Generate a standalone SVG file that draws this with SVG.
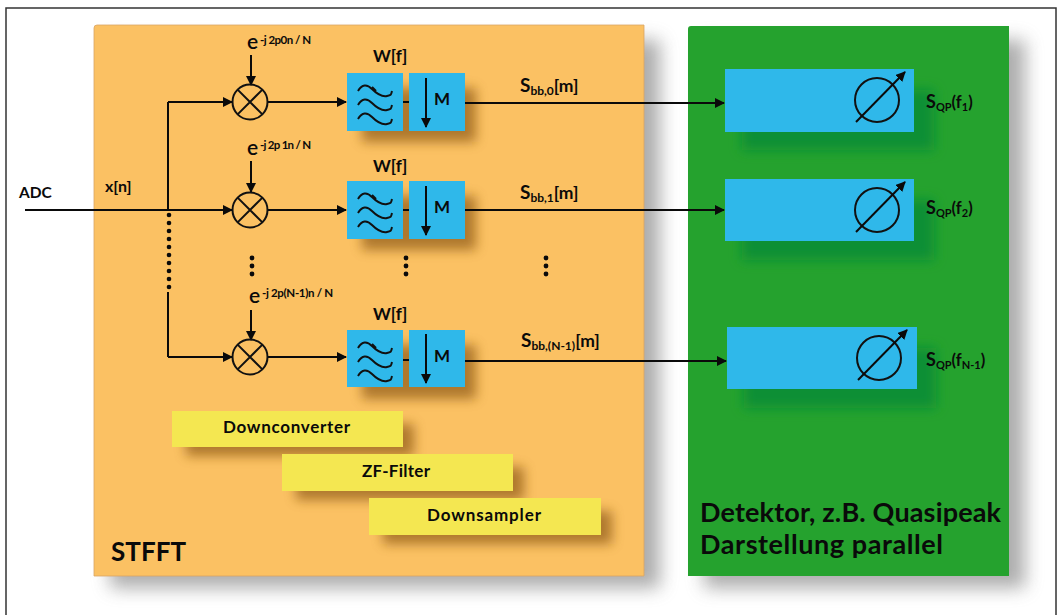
<svg xmlns="http://www.w3.org/2000/svg" width="1062" height="615" viewBox="0 0 1062 615">
<style>
text{font-family:"Lato","Open Sans","Liberation Sans",sans-serif;font-weight:700;fill:#0a0a0a}
.w{stroke:#111;stroke-width:2;fill:none}
.c{stroke:#0a0a0a;stroke-width:2;fill:none}
.a{stroke:#0a0a0a;stroke-width:2;fill:none;marker-end:url(#ah)}
.dot{fill:#0a0a0a}
.blue{fill:#2fb8ea}
.yel{fill:#f4e751}
.m{font-size:17px}
.sup{font-size:11.500px}
.e{font-size:21px;font-weight:600}
.s{font-size:17.500px}
</style>
<defs>
<marker id="ah" viewBox="0 0 10 10" refX="9" refY="5" markerWidth="5" markerHeight="5" orient="auto"><path d="M0 0L10 5L0 10Z" fill="#0a0a0a"/></marker>
<filter id="sh" x="-20%" y="-20%" width="150%" height="150%"><feGaussianBlur stdDeviation="9"/></filter>
<filter id="sh2" x="-40%" y="-40%" width="200%" height="200%"><feGaussianBlur stdDeviation="6"/></filter>
<g id="wave"><path class="w" d="M358 91c4-7 9-7 14-2s10 8 15 7 4-2 5-5"/><path class="w" d="M358 105c4-7 9-7 14-2s10 8 15 7 4-2 5-5"/><path class="w" d="M358 119c4-7 9-7 14-2s10 8 15 7 4-2 5-5"/><path class="w" stroke-width="1.500" d="M372 87l4 4"/></g>
<g id="mix"><circle class="w" cx="250" cy="102" r="17.500"/><path class="w" d="M237.600 89.600L262.400 114.400M262.400 89.600L237.600 114.400"/></g>
<g id="gauge"><circle class="w" cx="877" cy="100" r="22"/><path class="a" d="M856 122L905 72"/></g>
<g id="vd"><circle class="dot" cx="0" cy="0" r="2.400"/><circle class="dot" cx="0" cy="8" r="2.400"/><circle class="dot" cx="0" cy="16" r="2.400"/></g>
</defs>
<rect x="6" y="8" width="1050" height="620" fill="#fff" stroke="#333" stroke-width="1.500"/>
<g id="stfft">
<rect x="110" y="40" width="550" height="548" fill="#777" opacity=".6" filter="url(#sh)"/>
<path d="M94 28a3 3 0 0 1 3-3H644V576H94Z" fill="#fbc163" stroke="#d9a464" stroke-width=".8"/>
<text x="111" y="561" font-size="26" textLength="75">STFFT</text>
</g>
<g id="detector-panel">
<rect x="704" y="40" width="321" height="548" fill="#777" opacity=".6" filter="url(#sh)"/>
<path d="M688 29a3 3 0 0 1 3-3H1009V576H688Z" fill="#25a22e"/>
<text x="700" y="522" font-size="27" textLength="301">Detektor, z.B. Quasipeak</text>
<text x="700" y="554" font-size="27" textLength="243">Darstellung parallel</text>
</g>
<g id="shadows">
<g fill="#8f5a18" opacity=".7" filter="url(#sh2)">
<rect x="362" y="88" width="114" height="54"/><rect x="362" y="196" width="114" height="54"/><rect x="362" y="345" width="114" height="54"/>
<rect x="186" y="424" width="228" height="32"/><rect x="296" y="467" width="228" height="33"/><rect x="383" y="511" width="229" height="33"/>
</g>
<g fill="#0a8f35" filter="url(#sh2)">
<rect x="742" y="90" width="192" height="60"/><rect x="742" y="200" width="192" height="60"/><rect x="744" y="348" width="192" height="60"/>
</g>
</g>
<g id="connectors">
<path class="a" d="M25 210H232"/>
<path class="c" d="M168 210V102"/>
<path class="a" d="M168 102H232"/>
<path class="c" d="M168 292V357"/>
<path class="a" d="M168 357H232"/>
<path class="a" d="M251 55V85"/><path class="a" d="M251 161V192"/><path class="a" d="M251 310V340"/>
<path class="a" d="M268 102H346"/><path class="a" d="M268 210H346"/><path class="a" d="M268 357H346"/>
<path class="c" d="M403 102H409M403 210H409M403 360H409"/>
<path class="a" d="M465 103H724"/><path class="a" d="M465 210H724"/><path class="a" d="M465 361H726"/>
<g class="dot"><circle cx="169" cy="215" r="2.300"/><circle cx="169" cy="223" r="2.300"/><circle cx="169" cy="231" r="2.300"/><circle cx="169" cy="239" r="2.300"/><circle cx="169" cy="247" r="2.300"/><circle cx="169" cy="255" r="2.300"/><circle cx="169" cy="263" r="2.300"/><circle cx="169" cy="271" r="2.300"/><circle cx="169" cy="279" r="2.300"/><circle cx="169" cy="287" r="2.300"/></g>
<use href="#vd" x="252" y="258"/><use href="#vd" x="406" y="258"/><use href="#vd" x="546" y="258"/>
</g>
<text id="adc" x="19" y="198" font-size="15.500">ADC</text>
<text id="xn" x="105" y="192" font-size="16">x[n]</text>
<g id="mixer-0"><use href="#mix"/><text x="247" y="49" class="e">e</text><text x="260" y="44" class="sup" textLength="51">-j 2p0n / N</text></g>
<g id="mixer-1"><use href="#mix" y="108"/><text x="247" y="155" class="e">e</text><text x="260" y="149" class="sup" textLength="51">-j 2p 1n / N</text></g>
<g id="mixer-2"><use href="#mix" y="255"/><text x="249" y="303" class="e">e</text><text x="262" y="297" class="sup" textLength="71">-j 2p(N-1)n / N</text></g>
<g id="filter-0"><rect class="blue" x="347" y="73" width="56" height="58"/><use href="#wave"/><text x="373" y="62" class="m">W[f]</text></g>
<g id="filter-1"><rect class="blue" x="347" y="181" width="56" height="58"/><use href="#wave" y="108"/><text x="373" y="172" class="m">W[f]</text></g>
<g id="filter-2"><rect class="blue" x="347" y="330" width="56" height="57"/><use href="#wave" y="257"/><text x="373" y="320" class="m">W[f]</text></g>
<g id="down-0"><rect class="blue" x="409" y="73" width="56" height="58"/><path class="a" d="M426 78V127"/><text x="434" y="105" class="m">M</text></g>
<g id="down-1"><rect class="blue" x="409" y="181" width="56" height="58"/><path class="a" d="M426 186V235"/><text x="434" y="213" class="m">M</text></g>
<g id="down-2"><rect class="blue" x="409" y="330" width="56" height="57"/><path class="a" d="M426 334V383"/><text x="434" y="362" class="m">M</text></g>
<text id="sbb-0" x="520" y="92" class="s"><tspan font-size="19">S</tspan><tspan font-size="12" dy="3">bb,0</tspan><tspan dy="-3">[m]</tspan></text>
<text id="sbb-1" x="520" y="199" class="s"><tspan font-size="19">S</tspan><tspan font-size="12" dy="3">bb,1</tspan><tspan dy="-3">[m]</tspan></text>
<text id="sbb-2" x="521" y="347" class="s"><tspan font-size="19">S</tspan><tspan font-size="12" dy="3">bb,(N-1)</tspan><tspan dy="-3">[m]</tspan></text>
<g id="det-0"><rect class="blue" x="725" y="69" width="189" height="63"/><use href="#gauge"/></g>
<g id="det-1"><rect class="blue" x="725" y="179" width="189" height="62"/><use href="#gauge" y="110"/></g>
<g id="det-2"><rect class="blue" x="727" y="327" width="190" height="62"/><use href="#gauge" x="2" y="258"/></g>
<text id="sqp-0" x="926" y="108" font-size="16.500"><tspan font-size="18">S</tspan><tspan font-size="11" dy="3">QP</tspan><tspan dy="-3">(f</tspan><tspan font-size="11" dy="3">1</tspan><tspan dy="-3">)</tspan></text>
<text id="sqp-1" x="926" y="214" font-size="16.500"><tspan font-size="18">S</tspan><tspan font-size="11" dy="3">QP</tspan><tspan dy="-3">(f</tspan><tspan font-size="11" dy="3">2</tspan><tspan dy="-3">)</tspan></text>
<text id="sqp-2" x="926" y="366" font-size="16.500"><tspan font-size="18">S</tspan><tspan font-size="11" dy="3">QP</tspan><tspan dy="-3">(f</tspan><tspan font-size="11" dy="3">N-1</tspan><tspan dy="-3">)</tspan></text>
<g id="downconverter"><rect class="yel" x="172" y="411" width="231" height="36"/><text x="223" y="433" font-size="17" textLength="127">Downconverter</text></g>
<g id="zf-filter"><rect class="yel" x="282" y="454" width="231" height="37"/><text x="362" y="477" font-size="17" textLength="68">ZF-Filter</text></g>
<g id="downsampler"><rect class="yel" x="369" y="498" width="232" height="37"/><text x="427" y="521" font-size="17" textLength="114">Downsampler</text></g>
</svg>
